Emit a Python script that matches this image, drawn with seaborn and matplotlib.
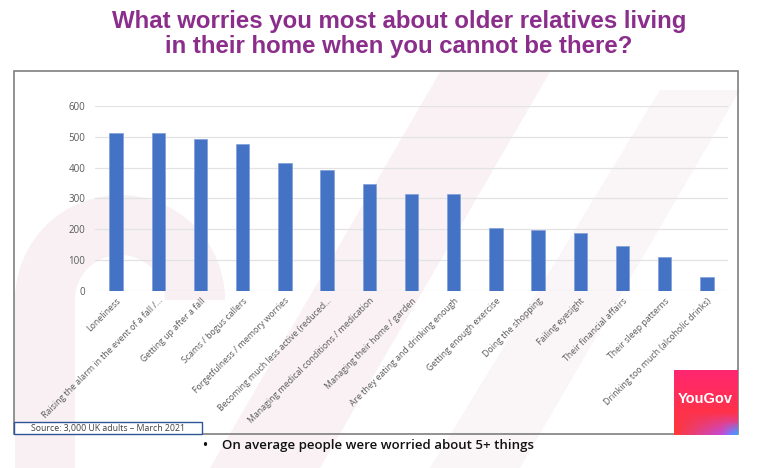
import matplotlib
matplotlib.use("Agg")
import matplotlib.pyplot as plt
import seaborn as sns
import numpy as np
import pandas as pd
from matplotlib.patches import Rectangle, Polygon, Wedge

categories = [
    "Loneliness",
    "Raising the alarm in the event of a fall /...",
    "Getting up after a fall",
    "Scams / bogus callers",
    "Forgetfulness / memory worries",
    "Becoming much less active (reduced...",
    "Managing medical conditions / medication",
    "Managing their home / garden",
    "Are they eating and drinking enough",
    "Getting enough exercise",
    "Doing the shopping",
    "Failing eyesight",
    "Their financial affairs",
    "Their sleep patterns",
    "Drinking too much (alcoholic drinks)",
]
values = [511, 511, 494, 476, 416, 391, 346, 314, 314, 203, 198, 188, 146, 109, 43]
yticks = [0, 100, 200, 300, 400, 500, 600]

title = "What worries you most about older relatives living\nin their home when you cannot be there?"
source = "Source: 3,000 UK adults \u2013 March 2021"
note = "\u2022    On average people were worried about 5+ things"

sns.set_theme(style="white")
plt.rcParams['font.family'] = ['Open Sans', 'DejaVu Sans']

W, H = 760, 468
fig = plt.figure(figsize=(W / 100, H / 100), dpi=100)

def fx(x):
    return x / W

def fy(y):
    return 1 - y / H

# faint watermark shapes in the background
bg = fig.add_axes([0, 0, 1, 1], zorder=-5)
bg.set_xlim(0, W)
bg.set_ylim(H, 0)
bg.axis("off")
wm = "#f8f0f3"
bg.add_patch(Wedge((120, 300), 105, 180, 360, width=60, facecolor=wm, edgecolor="none"))
bg.add_patch(Rectangle((15, 300), 60, 168, facecolor=wm, edgecolor="none"))
bg.add_patch(Polygon([(210, 468), (320, 468), (550, 72), (440, 72)], closed=True,
                     facecolor="#f9f1f4", edgecolor="none"))
bg.add_patch(Polygon([(430, 468), (520, 468), (740, 90), (660, 90)], closed=True,
                     facecolor="#faf6f7", edgecolor="none"))

# chart frame
fig.add_artist(Rectangle((fx(14), fy(434)), fx(737.7) - fx(14), fy(70.7) - fy(434),
                         transform=fig.transFigure, facecolor="none",
                         edgecolor="#7f7f7f", lw=1.2, zorder=1))

ax = fig.add_axes([fx(95), fy(290.7), fx(728) - fx(95), fy(106) - fy(290.7)])
ax.patch.set_alpha(0)
df = pd.DataFrame({"cat": categories, "val": values})
sns.barplot(data=df, x="cat", y="val", color="#4472C4", saturation=1, width=0.32, ax=ax,
            edgecolor="#7f9fd8", linewidth=0.5, zorder=3)
ax.set_xlim(-0.5, len(categories) - 0.5)
ax.set_ylim(0, 600)
ax.set_yticks(yticks)
ax.set_yticklabels([str(t) for t in yticks], fontsize=7, color="#595959")
ax.set_xlabel("")
ax.set_ylabel("")
ax.grid(axis="y", color="#e3e3e3", lw=0.9, zorder=0)
ax.set_axisbelow(True)
for s in ax.spines.values():
    s.set_visible(False)
ax.tick_params(axis="both", length=0)
ax.tick_params(axis="y", pad=7)
ax.set_xticks(range(len(categories)))
ax.set_xticklabels(categories, rotation=45, ha="right", rotation_mode="anchor",
                   fontsize=6.3, color="#595959")
ax.tick_params(axis="x", pad=4)

# title
fig.text(fx(399), fy(34), title, ha="center", va="center", fontsize=17.3, fontweight="bold",
         color="#8B2D8B", family=["Liberation Sans", "DejaVu Sans"], linespacing=1.15)

# source box
fig.add_artist(Rectangle((fx(14), fy(434)), fx(202) - fx(14), fy(422) - fy(434),
                         transform=fig.transFigure, facecolor="white",
                         edgecolor="#2F5597", lw=1.0, zorder=4))
fig.text(fx(108), fy(428), source, ha="center", va="center", fontsize=6.3,
         color="#404040", zorder=5)

# bullet note
fig.text(fx(203), fy(445), note, ha="left", va="center", fontsize=9.5,
         fontweight="semibold", color="#111111")

# YouGov logo
lax = fig.add_axes([fx(674), fy(435), fx(738) - fx(674), fy(370) - fy(435)], zorder=6)
yy, xx = np.mgrid[0:1:96j, 0:1:96j]
base_top = np.array([1.0, 0.15, 0.45])
base_mid = np.array([1.0, 0.22, 0.2])
purple = np.array([0.75, 0.3, 0.9])
blue = np.array([0.2, 0.65, 1.0])
t = yy[..., None]
img = base_top * (1 - t) + base_mid * t
wp = np.clip((yy - 0.65) * 3, 0, 1)[..., None] * np.clip(xx * 1.2, 0, 1)[..., None]
img = img * (1 - wp) + purple * wp
wb = np.clip((yy - 0.8) * 5, 0, 1)[..., None] * np.clip((xx - 0.75) * 4, 0, 1)[..., None]
img = img * (1 - wb) + blue * wb
lax.imshow(np.clip(img, 0, 1), extent=[0, 1, 0, 1], aspect="auto", origin="upper")
lax.axis("off")
lax.text(0.48, 0.55, "YouGov", ha="center", va="center", color="white", fontsize=10.5,
         fontweight="bold", family=["Liberation Sans", "DejaVu Sans"])

fig.savefig("out.png", dpi=100)
